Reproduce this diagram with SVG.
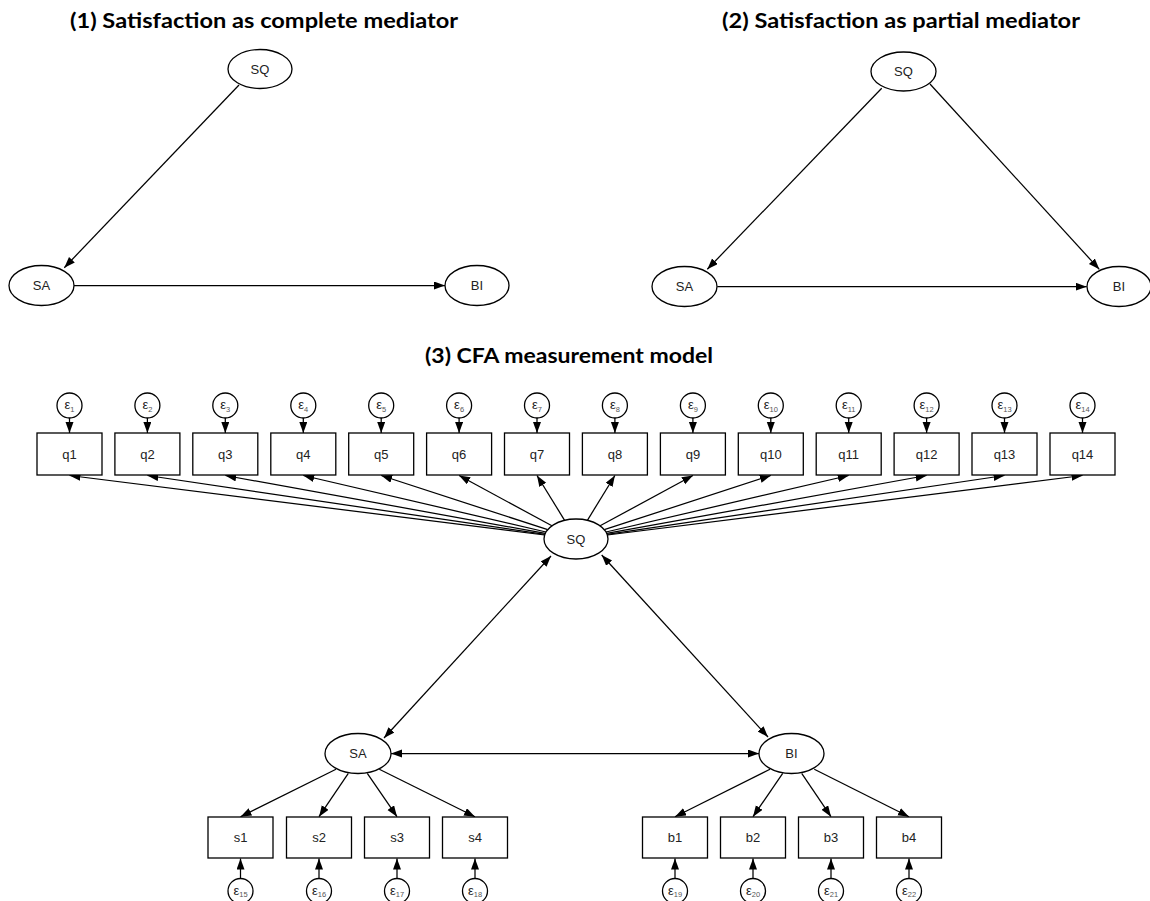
<svg xmlns="http://www.w3.org/2000/svg" width="1150" height="901" viewBox="0 0 1150 901">
<defs>
<marker id="arr" markerUnits="userSpaceOnUse" markerWidth="12" markerHeight="9" viewBox="0 0 12 9" refX="11" refY="4" orient="auto-start-reverse"><path d="M0,0 L11,4 L0,8 z" fill="#000"/></marker>
</defs>
<style>
.title{font-family:Lato,"Open Sans",sans-serif;font-weight:bold;font-size:20px;fill:#000;text-anchor:middle}
ellipse{fill:#fff;stroke:#000;stroke-width:1.3}
rect{fill:#fff;stroke:#000;stroke-width:1.3}
circle{fill:#fff;stroke:#000;stroke-width:1.3}
.lbl{font-family:"Liberation Sans",Arial,sans-serif;font-size:13px;fill:#222;text-anchor:middle}
.eps{font-family:"Liberation Sans",Arial,sans-serif;font-size:13px;fill:#222;text-anchor:middle}
.sub{font-size:7.5px;fill:#555}
.edges line{stroke:#000;stroke-width:1.25;marker-end:url(#arr)}
.edges line.bi{marker-start:url(#arr)}
</style>
<rect x="0" y="0" width="1150" height="901" style="fill:#fff;stroke:none"/>

<text class="title" x="264" y="28" textLength="388" lengthAdjust="spacingAndGlyphs">(1) Satisfaction as complete mediator</text>
<text class="title" x="901" y="28" textLength="358" lengthAdjust="spacingAndGlyphs">(2) Satisfaction as partial mediator</text>
<text class="title" x="569" y="363" textLength="288" lengthAdjust="spacingAndGlyphs">(3) CFA measurement model</text>

<g class="edges" id="connectors">
<line x1="239" y1="85" x2="64.3" y2="267.7"/>
<line x1="74" y1="285.5" x2="445" y2="285.5"/>
<line x1="881.7" y1="88.3" x2="707.3" y2="269.3"/>
<line x1="930" y1="84" x2="1099.3" y2="269.3"/>
<line x1="717.3" y1="286.7" x2="1086.7" y2="286.7"/>
<line x1="544.6" y1="535.0" x2="69.5" y2="475.5"/>
<line x1="544.9" y1="534.4" x2="147.4" y2="475.5"/>
<line x1="545.3" y1="533.4" x2="225.3" y2="475.5"/>
<line x1="546.0" y1="532.0" x2="303.3" y2="475.5"/>
<line x1="547.7" y1="529.7" x2="381.2" y2="475.5"/>
<line x1="551.9" y1="525.8" x2="459.1" y2="475.5"/>
<line x1="564.6" y1="520.3" x2="537.0" y2="475.5"/>
<line x1="587.4" y1="520.3" x2="614.9" y2="475.5"/>
<line x1="600.1" y1="525.8" x2="692.9" y2="475.5"/>
<line x1="604.3" y1="529.7" x2="770.8" y2="475.5"/>
<line x1="606.0" y1="532.0" x2="848.7" y2="475.5"/>
<line x1="606.7" y1="533.4" x2="926.6" y2="475.5"/>
<line x1="607.1" y1="534.4" x2="1004.5" y2="475.5"/>
<line x1="607.4" y1="535.0" x2="1082.5" y2="475.5"/>
<line x1="69.5" y1="418" x2="69.5" y2="433"/>
<line x1="147.4" y1="418" x2="147.4" y2="433"/>
<line x1="225.3" y1="418" x2="225.3" y2="433"/>
<line x1="303.3" y1="418" x2="303.3" y2="433"/>
<line x1="381.2" y1="418" x2="381.2" y2="433"/>
<line x1="459.1" y1="418" x2="459.1" y2="433"/>
<line x1="537.0" y1="418" x2="537.0" y2="433"/>
<line x1="614.9" y1="418" x2="614.9" y2="433"/>
<line x1="692.9" y1="418" x2="692.9" y2="433"/>
<line x1="770.8" y1="418" x2="770.8" y2="433"/>
<line x1="848.7" y1="418" x2="848.7" y2="433"/>
<line x1="926.6" y1="418" x2="926.6" y2="433"/>
<line x1="1004.5" y1="418" x2="1004.5" y2="433"/>
<line x1="1082.5" y1="418" x2="1082.5" y2="433"/>
<line class="bi" x1="551" y1="556" x2="384" y2="738"/>
<line class="bi" x1="601.7" y1="555" x2="768" y2="737"/>
<line class="bi" x1="391" y1="753.5" x2="759" y2="753.5"/>
<line x1="336" y1="769.3" x2="240.5" y2="816.7"/>
<line x1="348.3" y1="773.3" x2="319" y2="816.7"/>
<line x1="367.3" y1="773.3" x2="397" y2="816.7"/>
<line x1="379.3" y1="769.3" x2="475" y2="816.7"/>
<line x1="770" y1="769.3" x2="675" y2="816.7"/>
<line x1="782.7" y1="773.3" x2="753" y2="816.7"/>
<line x1="801.7" y1="773.3" x2="831" y2="816.7"/>
<line x1="814.3" y1="769.3" x2="909" y2="816.7"/>
<line x1="240.5" y1="878.5" x2="240.5" y2="858.5"/>
<line x1="319" y1="878.5" x2="319" y2="858.5"/>
<line x1="397" y1="878.5" x2="397" y2="858.5"/>
<line x1="475" y1="878.5" x2="475" y2="858.5"/>
<line x1="675" y1="878.5" x2="675" y2="858.5"/>
<line x1="753" y1="878.5" x2="753" y2="858.5"/>
<line x1="831" y1="878.5" x2="831" y2="858.5"/>
<line x1="909" y1="878.5" x2="909" y2="858.5"/>
</g>

<g id="p1_SQ"><ellipse cx="260" cy="69" rx="32" ry="19.5"/><text class="lbl" x="260" y="73.5">SQ</text></g>
<g id="p1_SA"><ellipse cx="41.5" cy="285.5" rx="32.5" ry="20"/><text class="lbl" x="41.5" y="290">SA</text></g>
<g id="p1_BI"><ellipse cx="477" cy="285.5" rx="32" ry="20"/><text class="lbl" x="477" y="290">BI</text></g>
<g id="p2_SQ"><ellipse cx="903.5" cy="71.5" rx="32.5" ry="19.5"/><text class="lbl" x="903.5" y="76">SQ</text></g>
<g id="p2_SA"><ellipse cx="684.5" cy="286.5" rx="32.5" ry="20"/><text class="lbl" x="684.5" y="291">SA</text></g>
<g id="p2_BI"><ellipse cx="1119" cy="286.5" rx="32" ry="20"/><text class="lbl" x="1119" y="291">BI</text></g>

<g id="cfa_SQ"><ellipse cx="576" cy="539" rx="32" ry="20"/><text class="lbl" x="576" y="543.5">SQ</text></g>
<g id="cfa_SA"><ellipse cx="358" cy="753.5" rx="33" ry="20"/><text class="lbl" x="358" y="758">SA</text></g>
<g id="cfa_BI"><ellipse cx="791.5" cy="753.5" rx="32.5" ry="20"/><text class="lbl" x="791.5" y="758">BI</text></g>

<g id="q1"><rect x="37" y="433" width="65" height="42"/><text class="lbl" x="69.5" y="459">q1</text></g>
<g id="q2"><rect x="114.9" y="433" width="65" height="42"/><text class="lbl" x="147.4" y="459">q2</text></g>
<g id="q3"><rect x="192.8" y="433" width="65" height="42"/><text class="lbl" x="225.3" y="459">q3</text></g>
<g id="q4"><rect x="270.8" y="433" width="65" height="42"/><text class="lbl" x="303.3" y="459">q4</text></g>
<g id="q5"><rect x="348.7" y="433" width="65" height="42"/><text class="lbl" x="381.2" y="459">q5</text></g>
<g id="q6"><rect x="426.6" y="433" width="65" height="42"/><text class="lbl" x="459.1" y="459">q6</text></g>
<g id="q7"><rect x="504.5" y="433" width="65" height="42"/><text class="lbl" x="537" y="459">q7</text></g>
<g id="q8"><rect x="582.4" y="433" width="65" height="42"/><text class="lbl" x="614.9" y="459">q8</text></g>
<g id="q9"><rect x="660.4" y="433" width="65" height="42"/><text class="lbl" x="692.9" y="459">q9</text></g>
<g id="q10"><rect x="738.3" y="433" width="65" height="42"/><text class="lbl" x="770.8" y="459">q10</text></g>
<g id="q11"><rect x="816.2" y="433" width="65" height="42"/><text class="lbl" x="848.7" y="459">q11</text></g>
<g id="q12"><rect x="894.1" y="433" width="65" height="42"/><text class="lbl" x="926.6" y="459">q12</text></g>
<g id="q13"><rect x="972" y="433" width="65" height="42"/><text class="lbl" x="1004.5" y="459">q13</text></g>
<g id="q14"><rect x="1050" y="433" width="65" height="42"/><text class="lbl" x="1082.5" y="459">q14</text></g>

<g id="s1"><rect x="208" y="817" width="65" height="41"/><text class="lbl" x="240.5" y="842">s1</text></g>
<g id="s2"><rect x="286.5" y="817" width="65" height="41"/><text class="lbl" x="319" y="842">s2</text></g>
<g id="s3"><rect x="364.5" y="817" width="65" height="41"/><text class="lbl" x="397" y="842">s3</text></g>
<g id="s4"><rect x="442.5" y="817" width="65" height="41"/><text class="lbl" x="475" y="842">s4</text></g>
<g id="b1"><rect x="642.5" y="817" width="65" height="41"/><text class="lbl" x="675" y="842">b1</text></g>
<g id="b2"><rect x="720.5" y="817" width="65" height="41"/><text class="lbl" x="753" y="842">b2</text></g>
<g id="b3"><rect x="798.5" y="817" width="65" height="41"/><text class="lbl" x="831" y="842">b3</text></g>
<g id="b4"><rect x="876.5" y="817" width="65" height="41"/><text class="lbl" x="909" y="842">b4</text></g>

<g id="e1"><circle cx="69.5" cy="405.5" r="12.5"/><text class="eps" x="69.5" y="409">ε<tspan class="sub" dy="2.5">1</tspan></text></g>
<g id="e2"><circle cx="147.4" cy="405.5" r="12.5"/><text class="eps" x="147.4" y="409">ε<tspan class="sub" dy="2.5">2</tspan></text></g>
<g id="e3"><circle cx="225.3" cy="405.5" r="12.5"/><text class="eps" x="225.3" y="409">ε<tspan class="sub" dy="2.5">3</tspan></text></g>
<g id="e4"><circle cx="303.3" cy="405.5" r="12.5"/><text class="eps" x="303.3" y="409">ε<tspan class="sub" dy="2.5">4</tspan></text></g>
<g id="e5"><circle cx="381.2" cy="405.5" r="12.5"/><text class="eps" x="381.2" y="409">ε<tspan class="sub" dy="2.5">5</tspan></text></g>
<g id="e6"><circle cx="459.1" cy="405.5" r="12.5"/><text class="eps" x="459.1" y="409">ε<tspan class="sub" dy="2.5">6</tspan></text></g>
<g id="e7"><circle cx="537" cy="405.5" r="12.5"/><text class="eps" x="537" y="409">ε<tspan class="sub" dy="2.5">7</tspan></text></g>
<g id="e8"><circle cx="614.9" cy="405.5" r="12.5"/><text class="eps" x="614.9" y="409">ε<tspan class="sub" dy="2.5">8</tspan></text></g>
<g id="e9"><circle cx="692.9" cy="405.5" r="12.5"/><text class="eps" x="692.9" y="409">ε<tspan class="sub" dy="2.5">9</tspan></text></g>
<g id="e10"><circle cx="770.8" cy="405.5" r="12.5"/><text class="eps" x="770.8" y="409">ε<tspan class="sub" dy="2.5">10</tspan></text></g>
<g id="e11"><circle cx="848.7" cy="405.5" r="12.5"/><text class="eps" x="848.7" y="409">ε<tspan class="sub" dy="2.5">11</tspan></text></g>
<g id="e12"><circle cx="926.6" cy="405.5" r="12.5"/><text class="eps" x="926.6" y="409">ε<tspan class="sub" dy="2.5">12</tspan></text></g>
<g id="e13"><circle cx="1004.5" cy="405.5" r="12.5"/><text class="eps" x="1004.5" y="409">ε<tspan class="sub" dy="2.5">13</tspan></text></g>
<g id="e14"><circle cx="1082.5" cy="405.5" r="12.5"/><text class="eps" x="1082.5" y="409">ε<tspan class="sub" dy="2.5">14</tspan></text></g>

<g id="e15"><circle cx="240.5" cy="891" r="12.5"/><text class="eps" x="240.5" y="894.5">ε<tspan class="sub" dy="2.5">15</tspan></text></g>
<g id="e16"><circle cx="319" cy="891" r="12.5"/><text class="eps" x="319" y="894.5">ε<tspan class="sub" dy="2.5">16</tspan></text></g>
<g id="e17"><circle cx="397" cy="891" r="12.5"/><text class="eps" x="397" y="894.5">ε<tspan class="sub" dy="2.5">17</tspan></text></g>
<g id="e18"><circle cx="475" cy="891" r="12.5"/><text class="eps" x="475" y="894.5">ε<tspan class="sub" dy="2.5">18</tspan></text></g>
<g id="e19"><circle cx="675" cy="891" r="12.5"/><text class="eps" x="675" y="894.5">ε<tspan class="sub" dy="2.5">19</tspan></text></g>
<g id="e20"><circle cx="753" cy="891" r="12.5"/><text class="eps" x="753" y="894.5">ε<tspan class="sub" dy="2.5">20</tspan></text></g>
<g id="e21"><circle cx="831" cy="891" r="12.5"/><text class="eps" x="831" y="894.5">ε<tspan class="sub" dy="2.5">21</tspan></text></g>
<g id="e22"><circle cx="909" cy="891" r="12.5"/><text class="eps" x="909" y="894.5">ε<tspan class="sub" dy="2.5">22</tspan></text></g>
</svg>
